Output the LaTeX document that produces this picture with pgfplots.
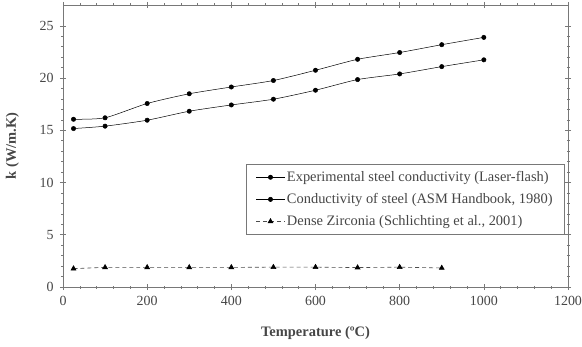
\documentclass[border=0pt]{standalone}
\usepackage{pgfplots}
\pgfplotsset{compat=1.18}
\usepackage{fontspec}
\setmainfont{Liberation Serif}
\definecolor{axgray}{RGB}{120,120,120}
\definecolor{txtgray}{RGB}{70,70,70}
\begin{document}
\begin{tikzpicture}
\useasboundingbox (-63bp,-60bp) rectangle (519bp,287bp);
\begin{axis}[
  scale only axis,
  width=505bp, height=282bp,
  xmin=0, xmax=1200, ymin=0, ymax=27,
  xtick={0,200,...,1200}, ytick={0,5,...,25},
  minor x tick num=4, minor y tick num=4,
  tick align=center,
  major tick length=6bp, minor tick length=3bp,
  axis line style={axgray, line width=0.9pt},
  every tick/.style={axgray, line width=0.6pt},
  /pgf/number format/assume math mode=true,
  /pgf/number format/1000 sep={},
  tick label style={font=\fontsize{14}{16}\selectfont, text=txtgray},
  xticklabel style={yshift=-3bp},
  yticklabel style={xshift=-3bp},
  xlabel={\textbf{Temperature (ºC)}},
  ylabel={\textbf{k (W/m.K)}},
  label style={font=\fontsize{14.5}{16}\selectfont, text=txtgray},
  xlabel style={at={(axis description cs:0.5,-0.163)}, anchor=center},
  ylabel style={at={(axis description cs:-0.1,0.5)}, anchor=center},
  legend style={at={(0.994,0.436)}, anchor=north east, draw=axgray, line width=0.8pt,
    font=\fontsize{14.5}{17}\selectfont, text=txtgray, row sep=6.5pt, inner xsep=10bp, inner ysep=5bp},
  legend cell align=left,
  legend image code/.code={\draw[mark repeat=2,mark phase=2,#1] plot coordinates {(0cm,0cm) (0.5cm,0cm) (1cm,0cm)};},
]
\addplot[black, line width=0.5pt, smooth, tension=0.4, mark=*, mark size=2.2pt, mark options={solid}] coordinates {
(25,16.06) (100,16.2) (200,17.57) (300,18.5) (400,19.15) (500,19.77) (600,20.75) (700,21.8) (800,22.45) (900,23.2) (1000,23.9)};
\addlegendentry{Experimental steel conductivity (Laser-flash)}
\addplot[black, line width=0.5pt, smooth, tension=0.4, mark=*, mark size=2.2pt, mark options={solid}] coordinates {
(25,15.17) (100,15.4) (200,15.97) (300,16.83) (400,17.43) (500,17.98) (600,18.84) (700,19.86) (800,20.4) (900,21.1) (1000,21.75)};
\addlegendentry{Conductivity of steel (ASM Handbook, 1980)}
\addplot[black!70, line width=0.6pt, dash pattern=on 4pt off 3pt, mark=triangle*, mark size=2.8pt, mark options={solid, fill=black, draw=black}] coordinates {
(25,1.76) (100,1.88) (200,1.88) (300,1.88) (400,1.88) (500,1.9) (600,1.9) (700,1.86) (800,1.9) (900,1.82)};
\addlegendentry{Dense Zirconia (Schlichting et al., 2001)}
\end{axis}
\end{tikzpicture}
\end{document}
